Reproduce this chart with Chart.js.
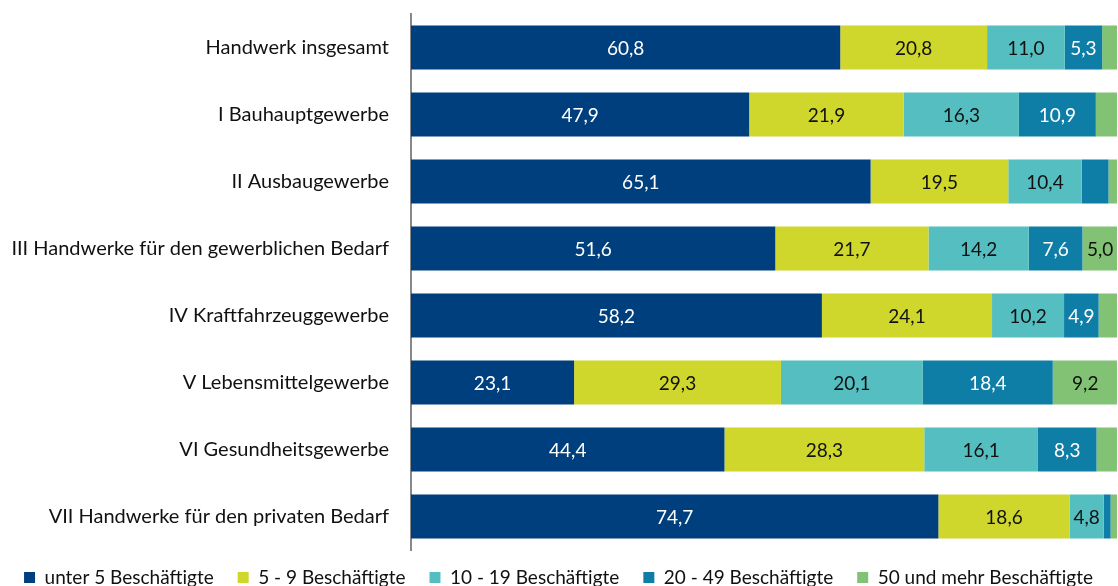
<!DOCTYPE html>
<html>
<head>
<meta charset="utf-8">
<script src="https://cdn.jsdelivr.net/npm/chart.js@4/dist/chart.umd.min.js"></script>
<style>
  html, body { margin: 0; padding: 0; background: #fff; }
  #wrap { width: 1118px; height: 586px; }
</style>
</head>
<body>
<div id="wrap"><canvas id="chart"></canvas></div>
<script>
const categories = [
  'Handwerk insgesamt',
  'I Bauhauptgewerbe',
  'II Ausbaugewerbe',
  'III Handwerke für den gewerblichen Bedarf',
  'IV Kraftfahrzeuggewerbe',
  'V Lebensmittelgewerbe',
  'VI Gesundheitsgewerbe',
  'VII Handwerke für den privaten Bedarf'
];
const seriesNames = ['unter 5 Beschäftigte', '5 - 9 Beschäftigte', '10 - 19 Beschäftigte', '20 - 49 Beschäftigte', '50 und mehr Beschäftigte'];
const under5 = [60.8, 47.9, 65.1, 51.6, 58.2, 23.1, 44.4, 74.7];
const from5to9 = [20.8, 21.9, 19.5, 21.7, 24.1, 29.3, 28.3, 18.6];
const from10to19 = [11.0, 16.3, 10.4, 14.2, 10.2, 20.1, 16.1, 4.8];
const from20to49 = [5.3, 10.9, 3.8, 7.6, 4.9, 18.4, 8.3, 1.0];
const over50 = [2.1, 3.0, 1.2, 5.0, 2.6, 9.2, 2.9, 0.9];

const colors = ['#003f7d', '#cfd62c', '#55bec0', '#0f7ea6', '#82c274'];
const labelColors = ['#ffffff', '#111111', '#111111', '#ffffff', '#111111'];
const FONT = "Lato, sans-serif";

// draws values inside the segments (only the ones wide enough)
const valueLabels = {
  id: 'valueLabels',
  afterLayout(chart) {
    // legend sits closer to the axis than its padding would allow
    chart.legend.top = 544;
  },
  afterDatasetsDraw(chart) {
    const ctx = chart.ctx;
    ctx.save();
    ctx.font = '19px ' + FONT;
    ctx.textAlign = 'center';
    ctx.textBaseline = 'middle';
    chart.data.datasets.forEach((ds, i) => {
      const meta = chart.getDatasetMeta(i);
      meta.data.forEach((bar, j) => {
        const v = ds.data[j];
        if (v < 4.5) return;
        ctx.fillStyle = labelColors[i];
        const cx = (bar.x + bar.base) / 2;
        ctx.fillText(v.toFixed(1).replace('.', ','), cx, bar.y + 1);
      });
    });
    ctx.restore();
  }
};

const data = [under5, from5to9, from10to19, from20to49, over50];

new Chart(document.getElementById('chart'), {
  type: 'bar',
  data: {
    labels: categories,
    datasets: data.map((d, i) => ({
      label: seriesNames[i],
      data: d,
      backgroundColor: colors[i],
      borderWidth: 0,
      categoryPercentage: 0.657,
      barPercentage: 1.0
    }))
  },
  options: {
    indexAxis: 'y',
    responsive: true,
    maintainAspectRatio: false,
    animation: false,
    layout: { padding: { top: 14, right: 1, bottom: 0, left: 0 } },
    scales: {
      x: {
        stacked: true,
        min: 0,
        max: 100,
        display: false
      },
      y: {
        stacked: true,
        grid: { display: false },
        border: { display: true, color: '#888888', width: 2 },
        ticks: {
          color: '#111111',
          font: { family: FONT, size: 20 },
          padding: 14
        },
        afterFit(scale) {
          scale.width = 411;
          scale.paddingTop = 0;
          scale.paddingBottom = 0;
        }
      }
    },
    plugins: {
      tooltip: { enabled: false },
      legend: {
        position: 'bottom',
        maxHeight: 36,
        labels: {
          boxWidth: 11,
          boxHeight: 11,
          padding: 24,
          color: '#111111',
          font: { family: FONT, size: 19 }
        }
      }
    }
  },
  plugins: [valueLabels]
});
</script>
</body>
</html>
